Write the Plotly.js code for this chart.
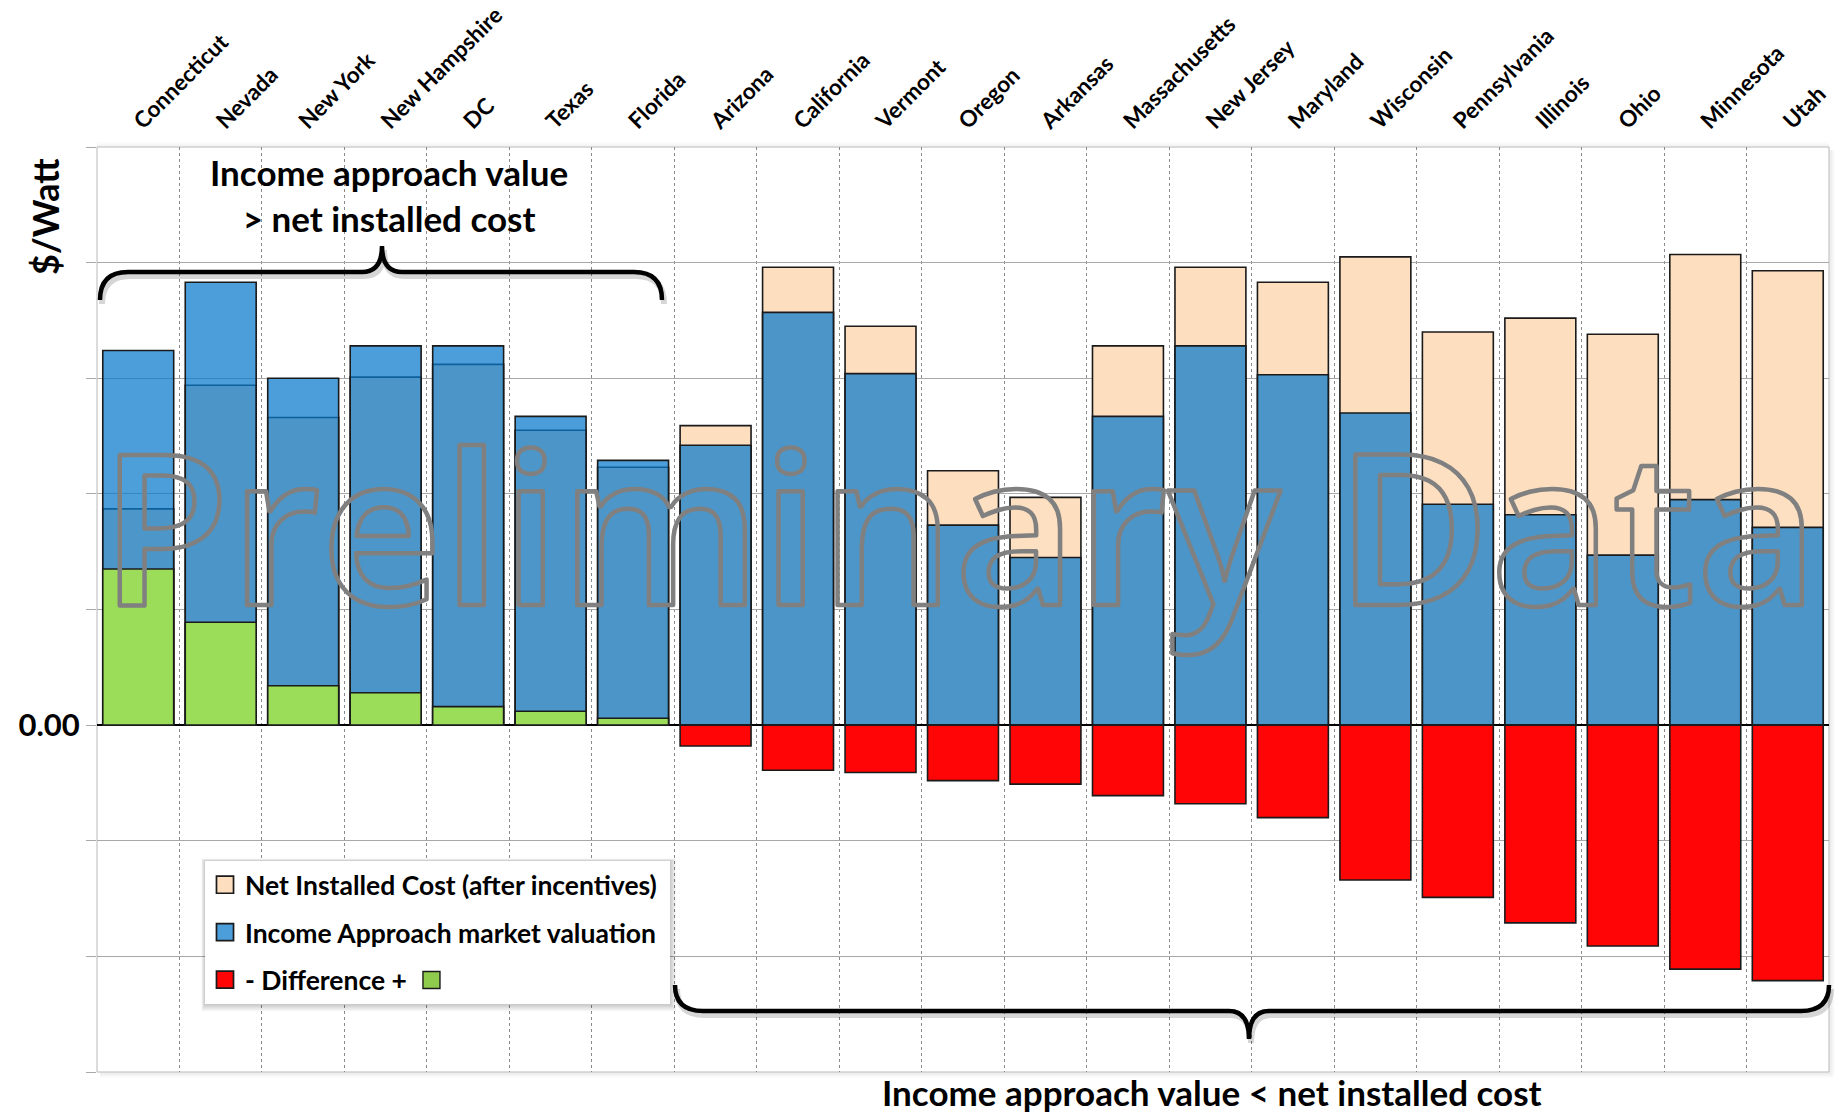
<!DOCTYPE html>
<html><head><meta charset="utf-8">
<script src="https://cdn.plot.ly/plotly-3.0.1.min.js"></script>
<style>html,body{margin:0;padding:0;background:#fff;} #chart{width:1841px;height:1114px;}</style>
</head><body><div id="chart"></div>
<script>
// ---------------- data ----------------
const categories = ["Connecticut","Nevada","New York","New Hampshire","DC","Texas","Florida",
  "Arizona","California","Vermont","Oregon","Arkansas","Massachusetts","New Jersey","Maryland",
  "Wisconsin","Pennsylvania","Illinois","Ohio","Minnesota","Utah"];
const netInstalledCost = [1.87,2.94,2.66,3.01,3.12,2.55,2.23,2.59,3.96,3.45,2.20,1.97,3.28,3.96,3.83,4.05,3.40,3.52,3.38,4.07,3.93];
const incomeApproachValue = [3.24,3.83,3.00,3.28,3.28,2.67,2.29,2.42,3.57,3.04,1.73,1.45,2.67,3.28,3.03,2.70,1.91,1.82,1.47,1.95,1.71];
const difference = [1.35,0.89,0.34,0.28,0.16,0.12,0.06,-0.18,-0.39,-0.41,-0.48,-0.51,-0.61,-0.68,-0.80,-1.34,-1.49,-1.71,-1.91,-2.11,-2.21];
const yTickValues = [-3,-2,-1,0,1,2,3,4,5];
const yTickLabels = ["","","","0.00","","","","",""];

// ---------------- geometry helpers ----------------
const W = 1841, H = 1114;
const M = {l: 97, r: 12, t: 147, b: 42};
const PW = W - M.l - M.r, PH = H - M.t - M.b;
const px = x => (x - M.l) / PW;
const py = y => 1 - (y - M.t) / PH;
const FONT = "Lato, 'Open Sans', 'DejaVu Sans', sans-serif";

function pathFrom(cmds, dx, dy) {
  dx = dx || 0; dy = dy || 0;
  return cmds.map(c => c[0] + c.slice(1).map((v, i) => i % 2 === 0 ? px(v + dx).toFixed(5) : py(v + dy).toFixed(5))
    .reduce((s, v, i) => s + (i % 2 === 0 ? (i ? ' ' : '') + v : ',' + v), '')).join(' ');
}
function brace(x0, x1, xm, yEnd, yLine, yTip, r, r2) {
  return [
    ['M', x0, yEnd], ['Q', x0, yLine, x0 + r, yLine], ['L', xm - r2, yLine],
    ['Q', xm, yLine, xm, yTip], ['Q', xm, yLine, xm + r2, yLine], ['L', x1 - r, yLine],
    ['Q', x1, yLine, x1, yEnd]
  ];
}
const topBrace = brace(100, 662, 382, 300, 272, 246, 28, 20);
const botBrace = brace(675, 1829, 1249, 985, 1011, 1039, 28, 20);

const shapes = [];
// plot frame with soft shadow
for (let k = 1; k <= 5; k++) {
  const a = 0.10 - k * 0.017;
  shapes.push({type: 'line', xref: 'paper', yref: 'paper', layer: 'below', x0: px(M.l + PW + k), x1: px(M.l + PW + k), y0: py(M.t + 3), y1: py(M.t + PH + k), line: {color: `rgba(0,0,0,${a})`, width: 1}});
  shapes.push({type: 'line', xref: 'paper', yref: 'paper', layer: 'below', x0: px(M.l + 3), x1: px(M.l + PW + k), y0: py(M.t + PH + k), y1: py(M.t + PH + k), line: {color: `rgba(0,0,0,${a})`, width: 1}});
  shapes.push({type: 'line', xref: 'paper', yref: 'paper', layer: 'below', x0: px(M.l), x1: px(M.l + PW), y0: py(M.t - k), y1: py(M.t - k), line: {color: `rgba(0,0,0,${a * 0.6})`, width: 1}});
}
shapes.push({type: 'rect', xref: 'paper', yref: 'paper', layer: 'below', x0: 0, x1: 1, y0: 0, y1: 1, line: {color: '#b8b8b8', width: 1}});
// braces
[topBrace, botBrace].forEach(b => {
  shapes.push({type: 'path', xref: 'paper', yref: 'paper', layer: 'above', path: pathFrom(b, 2, 4), line: {color: 'rgba(0,0,0,0.16)', width: 6}});
  shapes.push({type: 'path', xref: 'paper', yref: 'paper', layer: 'above', path: pathFrom(b), line: {color: '#000', width: 4.5}});
});

const diffPositive = difference.map(v => v > 0 ? v : null);
const diffNegative = difference.map(v => v < 0 ? v : null);

const outline = {color: '#1a1a1a', width: 1.6};
const traces = [
  {type: 'bar', name: 'Net Installed Cost (after incentives)', x: categories, y: netInstalledCost,
   legendgroup: 'g1', marker: {color: '#FDDFC0', line: outline}},
  {type: 'bar', name: 'Income Approach market valuation', x: categories, y: incomeApproachValue,
   legendgroup: 'g2', marker: {color: 'rgba(8,122,204,0.73)', line: outline}},
  {type: 'bar', name: '- Difference +', x: categories, y: diffNegative,
   legendgroup: 'g3', marker: {color: '#FF0505', line: outline}},
  {type: 'bar', name: '+ Difference', x: categories, y: diffPositive, showlegend: false,
   legendgroup: 'g3', marker: {color: '#9BDC58', line: outline}}
];

const layout = {
  width: W, height: H,
  margin: M,
  paper_bgcolor: '#ffffff', plot_bgcolor: 'rgba(0,0,0,0)',
  barmode: 'overlay', bargap: 0.14,
  showlegend: true, hovermode: false,
  font: {family: FONT, color: '#000'},
  xaxis: {
    type: 'category', side: 'top', tickson: 'boundaries', automargin: false,
    showgrid: true, gridcolor: '#8a8a8a', griddash: 'dot', gridwidth: 1,
    ticks: '', tickangle: -45, showline: false, zeroline: false,
    ticklabelstandoff: 8, ticklabelshift: -3,
    tickfont: {family: FONT, size: 22.5, color: '#000', weight: 'bold'},
    range: [-0.5, categories.length - 0.5]
  },
  yaxis: {
    range: [-3, 5], tickmode: 'array', tickvals: yTickValues, ticktext: yTickLabels,
    showgrid: true, gridcolor: '#a8a8a8', gridwidth: 1, automargin: false,
    ticks: 'outside', ticklen: 10, tickcolor: '#a8a8a8', tickwidth: 1,
    zeroline: true, zerolinecolor: '#000', zerolinewidth: 2.5, showline: false,
    tickfont: {family: FONT, size: 31, color: '#000', weight: 'bold'}
  },
  legend: {
    x: px(205), y: py(861), xanchor: 'left', yanchor: 'top',
    bgcolor: 'rgba(0,0,0,0)', borderwidth: 0,
    traceorder: 'grouped', tracegroupgap: 10,
    font: {family: FONT, size: 26.5, color: '#000', weight: 'bold'}
  },
  shapes: shapes,
  annotations: [
    {text: 'Preliminary Data', xref: 'paper', yref: 'paper', x: px(959), y: py(523), xanchor: 'center', yanchor: 'middle',
     showarrow: false, font: {family: "'Open Sans', sans-serif", size: 211, weight: 600, color: 'rgba(255,255,255,0.12)'}},
    {text: 'Income approach value<br>&gt; net installed cost', xref: 'paper', yref: 'paper', x: px(389), y: py(195),
     xanchor: 'center', yanchor: 'middle', align: 'center', showarrow: false,
     font: {family: FONT, size: 35, weight: 'bold', color: '#000'}},
    {text: 'Income approach value &lt; net installed cost', xref: 'paper', yref: 'paper', x: px(1212), y: py(1114),
     xanchor: 'center', yanchor: 'bottom', showarrow: false, borderpad: 0,
     font: {family: FONT, size: 35, weight: 'bold', color: '#000'}},
    {text: '$/Watt', xref: 'paper', yref: 'paper', x: px(45), y: py(217), xanchor: 'center', yanchor: 'middle',
     textangle: -90, showarrow: false, font: {family: FONT, size: 36, weight: 'bold', color: '#000'}}
  ]
};

function strokeWatermark(gd) {
  gd.querySelectorAll('text.annotation-text').forEach(t => {
    if (t.textContent.indexOf('Preliminary') === 0) {
      t.style.fill = 'rgba(255,255,255,0.12)';
      t.style.stroke = '#808080';
      t.style.strokeWidth = '4.5px';
      t.style.strokeLinejoin = 'round';
    }
  });
}

const gd = document.getElementById('chart');
Plotly.newPlot(gd, traces, layout, {displayModeBar: false, staticPlot: true}).then(() => {
  strokeWatermark(gd);
  try {
    const root = gd.getBoundingClientRect();
    const bg = gd.querySelector('.legend rect.bg').getBoundingClientRect();
    const L = bg.left - root.left, T = bg.top - root.top, R = L + bg.width + 8, B = T + bg.height;
    const extra = [];
    for (let k = 6; k >= 1; k--) {
      extra.push({type: 'rect', xref: 'paper', yref: 'paper', layer: 'above',
        x0: px(L - k * 0.6), x1: px(R + k), y0: py(T - k * 0.4), y1: py(B + k * 1.2),
        fillcolor: `rgba(0,0,0,${0.035})`, line: {width: 0}});
    }
    extra.push({type: 'rect', xref: 'paper', yref: 'paper', layer: 'above', x0: px(L), x1: px(R), y0: py(T), y1: py(B),
      fillcolor: '#ffffff', line: {width: 0}});
    // enlarge legend symbols
    gd.querySelectorAll('.legend .legendpoints path').forEach(p => {
      const tr = p.getAttribute('transform') || '';
      p.setAttribute('transform', tr + ' scale(1.42)');
      p.style.strokeWidth = '1.2px';
    });
    const items = gd.querySelectorAll('.legend .legendtext');
    const last = items[items.length - 1].getBoundingClientRect();
    const sx = last.right - root.left + 16, sc = (last.top + last.bottom) / 2 - root.top;
    extra.push({type: 'rect', xref: 'paper', yref: 'paper', layer: 'above', x0: px(sx), x1: px(sx + 17), y0: py(sc - 8.5), y1: py(sc + 8.5),
      fillcolor: '#8FCB4C', line: {color: '#1a1a1a', width: 1.4}});
    return Plotly.relayout(gd, {shapes: shapes.concat(extra)});
  } catch (e) { console.log(e); }
}).then(() => strokeWatermark(gd));
</script>
</body></html>
